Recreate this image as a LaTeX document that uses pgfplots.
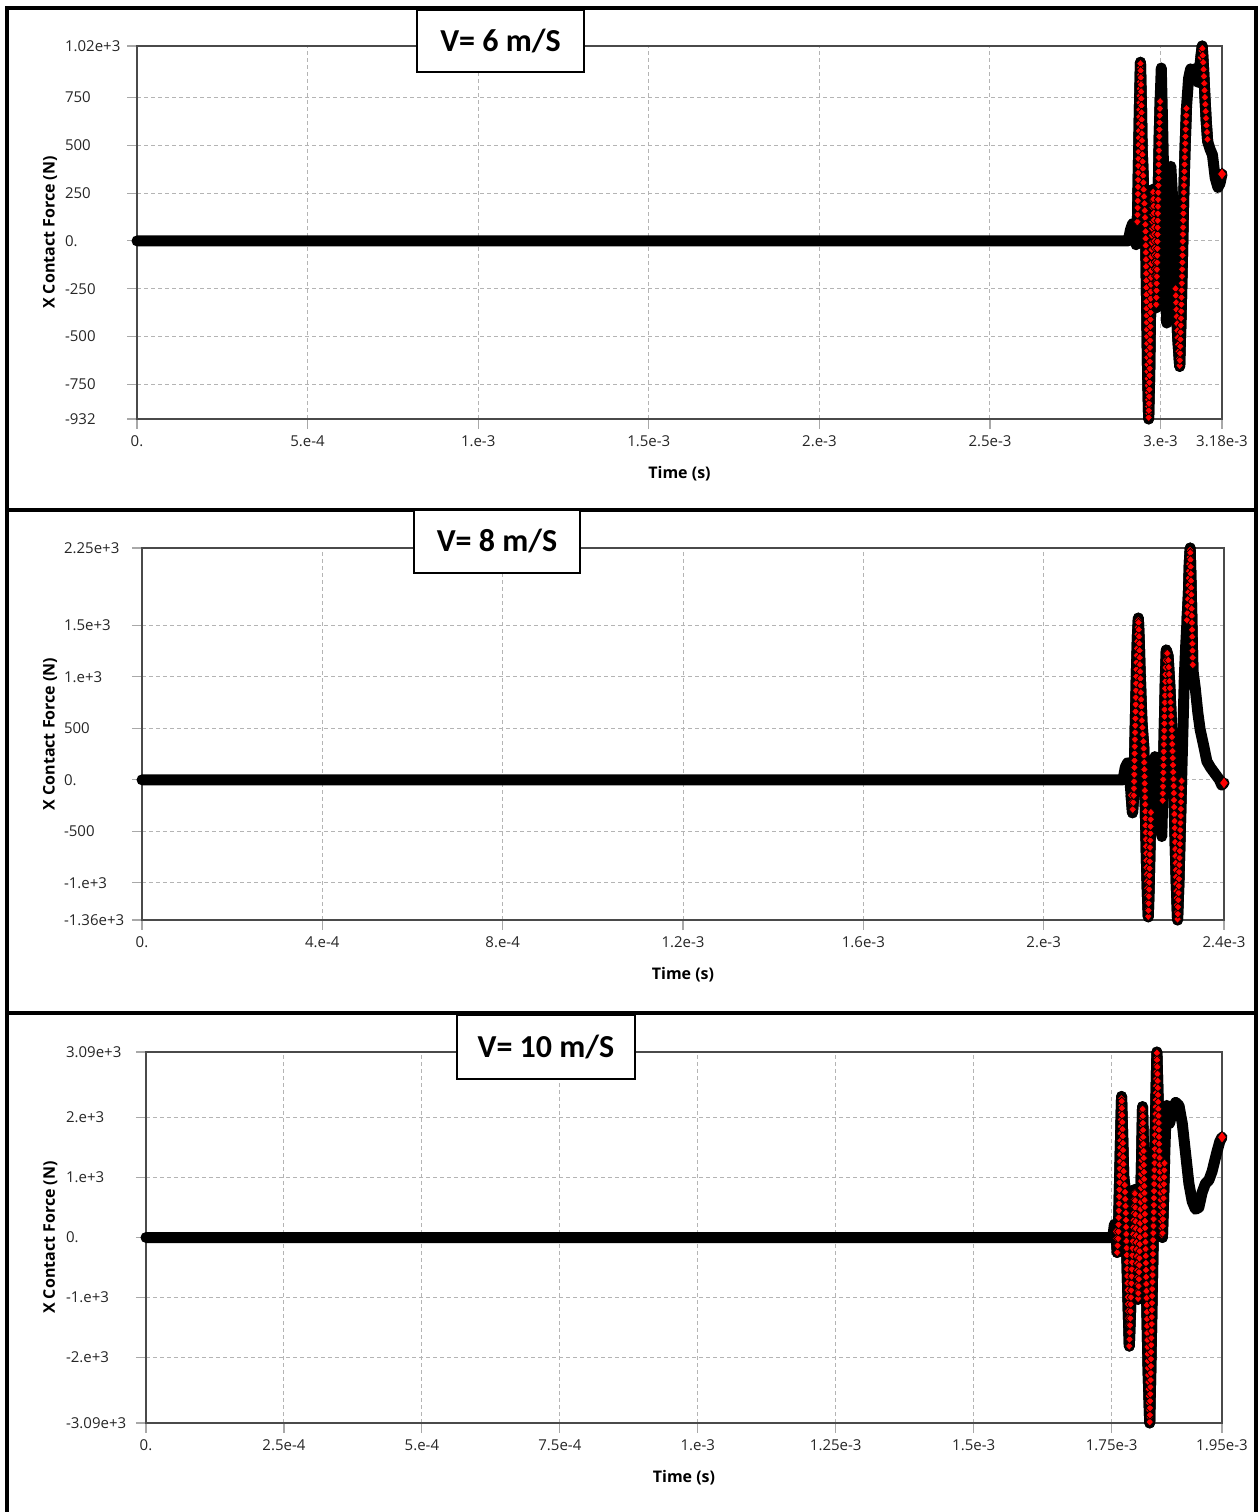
\documentclass[border=0pt]{standalone}
\usepackage{fontspec}
\setmainfont{Open Sans}
\newfontfamily\titlefont{Carlito}
\usepackage{pgfplots}
\pgfplotsset{compat=1.18}
\usetikzlibrary{decorations.markings,shapes.geometric}
\definecolor{axgray}{HTML}{4A4A4A}
\definecolor{gridgray}{HTML}{B4B4B4}
\definecolor{tickgray}{HTML}{A8A8A8}
\definecolor{ptred}{HTML}{FF0000}

% time in units of 1e-3 s, force in N
\pgfplotstableread{
t F
0 0
2.905 0
2.912 60
2.918 90
2.924 40
2.928 -20
2.932 100
2.935 400
2.938 700
2.941 935
2.944 700
2.946 480
2.948 390
2.950 285
2.952 220
2.954 150
2.956 50
2.958 -200
2.960 -450
2.962 -700
2.965 -932
2.968 -700
2.970 -450
2.972 -200
2.975 50
2.978 270
2.981 100
2.984 -150
2.987 -350
2.990 -100
2.993 250
2.996 550
2.999 750
3.002 905
3.006 600
3.010 250
3.014 -100
3.018 -430
3.022 -100
3.026 200
3.030 390
3.036 200
3.040 0
3.044 -250
3.050 -500
3.056 -657
3.060 -400
3.064 -100
3.068 250
3.072 500
3.076 700
3.082 850
3.088 900
3.094 870
3.100 900
3.106 880
3.110 830
3.114 900
3.118 960
3.122 1020
3.126 900
3.130 750
3.134 620
3.138 520
3.145 480
3.152 450
3.160 330
3.168 280
3.174 300
3.180 350
}\vsix

\pgfplotstableread{
t F
0 0
2.176 0
2.181 120
2.186 165
2.190 60
2.194 -150
2.197 -320
2.200 -150
2.202 300
2.204 700
2.206 1100
2.208 1400
2.210 1570
2.212 1350
2.214 1050
2.216 800
2.218 560
2.220 440
2.222 320
2.224 0
2.226 -400
2.228 -800
2.230 -1100
2.232 -1330
2.234 -1050
2.236 -650
2.238 -300
2.242 50
2.247 225
2.252 150
2.256 -100
2.260 -320
2.262 -550
2.264 -200
2.266 200
2.268 600
2.270 1000
2.272 1260
2.276 1200
2.280 900
2.284 500
2.288 0
2.291 -500
2.294 -1000
2.297 -1360
2.300 -1000
2.303 -500
2.306 0
2.309 500
2.312 1000
2.315 1300
2.318 1550
2.321 1800
2.323 2100
2.325 2250
2.327 1900
2.329 1500
2.331 1067
2.336 900
2.342 650
2.347 490
2.355 330
2.362 180
2.370 120
2.380 60
2.390 0
2.395 -50
2.400 -30
}\veight

\pgfplotstableread{
t F
0 0
1.752 0
1.755 220
1.758 100
1.760 -250
1.762 0
1.764 800
1.766 1600
1.768 2350
1.770 1700
1.772 1000
1.774 850
1.776 300
1.778 -500
1.780 -1200
1.782 -1810
1.784 -1300
1.786 -700
1.788 -200
1.790 300
1.792 800
1.794 200
1.796 -400
1.798 -1030
1.800 -500
1.802 300
1.804 1200
1.806 2180
1.808 1400
1.810 500
1.812 -400
1.814 -1300
1.816 -2200
1.819 -3090
1.821 -2200
1.823 -1200
1.825 -200
1.827 800
1.829 1800
1.832 3090
1.834 2400
1.836 1600
1.838 900
1.840 200
1.842 0
1.844 600
1.846 1300
1.848 1900
1.850 2200
1.855 1900
1.860 2100
1.866 2250
1.872 2200
1.878 1900
1.884 1400
1.890 900
1.896 600
1.902 470
1.908 500
1.914 750
1.920 900
1.926 950
1.932 1100
1.940 1400
1.946 1600
1.950 1670
}\vten

\pgfplotsset{
  forcepanel/.style={
    scale only axis, clip=false, xmin=0,
    axis line style={draw=axgray, line width=0.7pt},
    grid=major,
    grid style={gridgray, line width=0.5pt, dash pattern=on 2pt off 1.5pt},
    tick style={tickgray, line width=0.6pt},
    tick align=outside, major tick length=5pt,
    xtick pos=bottom, ytick pos=left,
    ticklabel style={font=\fontsize{7.5}{9}\selectfont, text=black!85},
    yticklabel style={anchor=west},
    label style={font=\fontsize{8}{9.6}\selectfont\bfseries},
    xlabel={Time (s)},
    ylabel={X Contact Force (N)},
    xlabel style={at={(axis description cs:0.5,0)}, anchor=center, yshift=-27.5pt},
  },
  blackline/.style={black, line width=5.5pt, line cap=round, line join=round, mark=none},
  redchain/.style={black, line width=5.5pt, line cap=round, line join=round, mark=none,
    postaction={decorate, decoration={markings,
      mark=between positions 0 and 1 step 3.5pt with {
        \node[diamond, fill=ptred, draw=black, line width=0.35pt, inner sep=0pt,
          minimum width=4pt, minimum height=4.4pt] {};}}}},
  lastpt/.style={only marks, mark=diamond*, mark size=3pt,
    mark options={fill=ptred, draw=black, line width=0.35pt}},
}

\begin{document}
\begin{tikzpicture}
\useasboundingbox (0,0) rectangle (630pt,756pt);

% V = 6 m/s
\begin{axis}[forcepanel, at={(68.5pt,546.5pt)}, anchor=south west,
  width=542.5pt, height=186.5pt, xmax=3.18, ymin=-932, ymax=1020,
  xtick={0,0.5,1,1.5,2,2.5,3,3.18},
  xticklabels={0.,5.e-4,1.e-3,1.5e-3,2.e-3,2.5e-3,3.e-3,3.18e-3},
  ytick={-932,-750,-500,-250,0,250,500,750,1020},
  yticklabels={-932,-750,-500,-250,0.,250,500,750,1.02e+3},
  yticklabel style={xshift=-34.5pt},
  ylabel style={at={(axis description cs:-0.080,0.5)}, anchor=center}]
\addplot[blackline] table[x=t,y=F] {\vsix};
\addplot[redchain, restrict x to domain=2.932:2.999] table[x=t,y=F] {\vsix};
\addplot[redchain, restrict x to domain=3.044:3.076] table[x=t,y=F] {\vsix};
\addplot[redchain, restrict x to domain=3.118:3.138] table[x=t,y=F] {\vsix};
\addplot[lastpt, restrict x to domain=3.179:3.181] table[x=t,y=F] {\vsix};
\end{axis}

% V = 8 m/s
\begin{axis}[forcepanel, at={(71pt,296pt)}, anchor=south west,
  width=541pt, height=186pt, xmax=2.4, ymin=-1360, ymax=2250,
  xtick={0,0.4,0.8,1.2,1.6,2,2.4},
  xticklabels={0.,4.e-4,8.e-4,1.2e-3,1.6e-3,2.e-3,2.4e-3},
  ytick={-1360,-1000,-500,0,500,1000,1500,2250},
  yticklabels={-1.36e+3,-1.e+3,-500,0.,500,1.e+3,1.5e+3,2.25e+3},
  yticklabel style={xshift=-37.5pt},
  ylabel style={at={(axis description cs:-0.085,0.5)}, anchor=center}]
\addplot[blackline] table[x=t,y=F] {\veight};
\addplot[redchain, restrict x to domain=2.194:2.238] table[x=t,y=F] {\veight};
\addplot[redchain, restrict x to domain=2.264:2.306] table[x=t,y=F] {\veight};
\addplot[redchain, restrict x to domain=2.318:2.331] table[x=t,y=F] {\veight};
\addplot[lastpt, restrict x to domain=2.399:2.401] table[x=t,y=F] {\veight};
\end{axis}

% V = 10 m/s
\begin{axis}[forcepanel, at={(73pt,44.5pt)}, anchor=south west,
  width=538pt, height=185.5pt, xmax=1.95, ymin=-3090, ymax=3090,
  xtick={0,0.25,0.5,0.75,1,1.25,1.5,1.75,1.95},
  xticklabels={0.,2.5e-4,5.e-4,7.5e-4,1.e-3,1.25e-3,1.5e-3,1.75e-3,1.95e-3},
  ytick={-3090,-2000,-1000,0,1000,2000,3090},
  yticklabels={-3.09e+3,-2.e+3,-1.e+3,0.,1.e+3,2.e+3,3.09e+3},
  yticklabel style={xshift=-38.5pt},
  ylabel style={at={(axis description cs:-0.089,0.5)}, anchor=center}]
\addplot[blackline] table[x=t,y=F] {\vten};
\addplot[redchain, restrict x to domain=1.758:1.846] table[x=t,y=F] {\vten};
\addplot[lastpt, restrict x to domain=1.949:1.951] table[x=t,y=F] {\vten};
\end{axis}

% frame and panel separators
\draw[line width=2pt] (3.5pt,-10pt) rectangle (628pt,751.75pt);
\draw[line width=2pt] (3.5pt,501pt) -- (628pt,501pt);
\draw[line width=2pt] (3.5pt,249.5pt) -- (628pt,249.5pt);

% panel titles
\node[draw=black, line width=1pt, fill=white, minimum width=83.5pt, minimum height=31pt,
  font=\titlefont\fontsize{16}{19}\selectfont\bfseries] at (250.25pt,735.5pt) {V= 6 m/S};
\node[draw=black, line width=1pt, fill=white, minimum width=83pt, minimum height=31.5pt,
  font=\titlefont\fontsize{16}{19}\selectfont\bfseries] at (248.5pt,485.25pt) {V= 8 m/S};
\node[draw=black, line width=1pt, fill=white, minimum width=89pt, minimum height=32pt,
  font=\titlefont\fontsize{16}{19}\selectfont\bfseries] at (273pt,232.5pt) {V= 10 m/S};
\end{tikzpicture}
\end{document}
